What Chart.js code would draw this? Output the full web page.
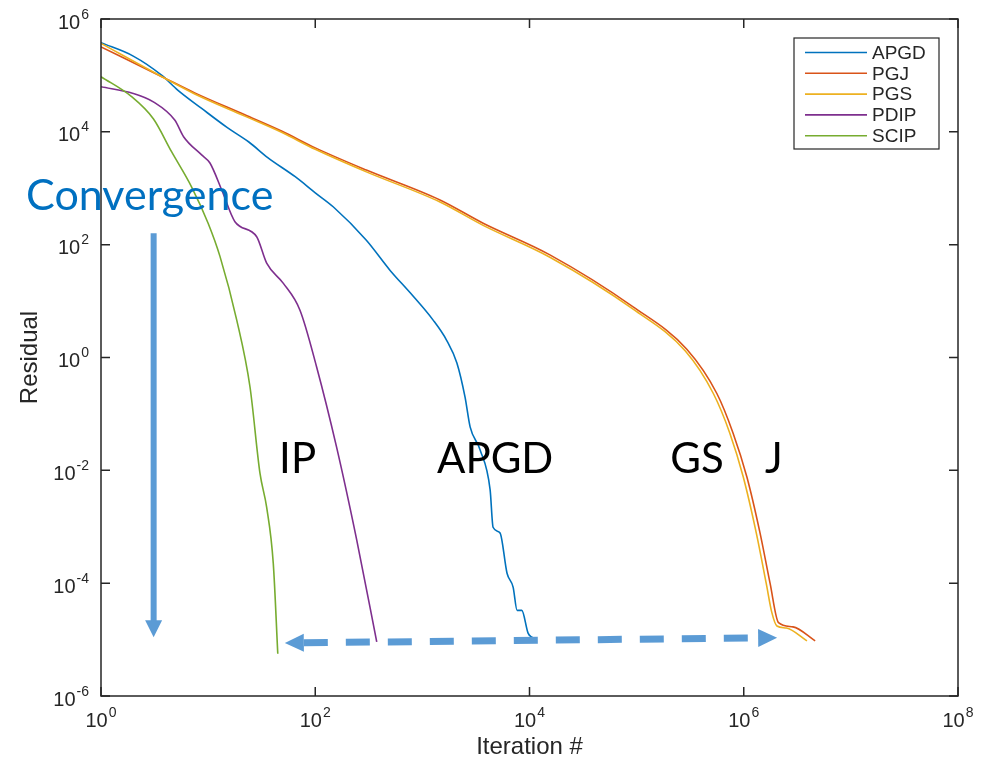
<!DOCTYPE html>
<html lang="en">
<head>
<meta charset="UTF-8">
<title>Residual vs iteration</title>
<script src="https://cdn.jsdelivr.net/npm/chart.js"></script>
<style>
  html, body {
    margin: 0;
    padding: 0;
    background: #fff;
    overflow: hidden;
  }
  canvas {
    display: block;
  }
</style>
</head>
<body>
<canvas id="chart" width="986" height="764"></canvas>
<script>
  // iteration counts (x) and residuals (y)
  const apgdIter = [1, 2, 3.7, 5.2, 8.7, 15, 24, 36, 65, 100, 147, 300, 500, 770, 1260, 1690, 2100, 2500, 2790, 3460, 4290, 4570, 5300, 6170, 7030, 7660, 8470, 9700, 10500, 11700]
  const apgdRes = [3.8e5, 2.2e5, 1.0e5, 5.5e4, 2.6e4, 1.2e4, 6600, 3500, 1600, 830, 470, 120, 35, 14, 4.6, 2.0, 0.8, 0.2, 0.059, 0.023, 0.0045, 9.8e-4, 7.8e-4, 1.5e-4, 8.5e-5, 3.3e-5, 3.3e-5, 1.3e-5, 1.1e-5, 1.0e-5]

  const pgjIter = [1, 3.7, 7.5, 22, 49, 100, 300, 1460, 3690, 15500, 92700, 294000, 561000, 794000, 1.07e6, 1.42e6, 1.76e6, 2.11e6, 2.88e6, 4.64e6]
  const pgjRes = [3.2e5, 9.5e4, 4.9e4, 2.0e4, 1.02e4, 5200, 2100, 620, 240, 66, 7.9, 1.4, 0.23, 0.046, 0.0076, 7.7e-4, 1.0e-4, 2.0e-5, 1.68e-5, 9.5e-6]

  const pgsIter = [1, 3.7, 7.5, 22, 49, 100, 300, 1460, 3690, 15500, 92700, 285000, 520000, 740000, 990000, 1.31e6, 1.62e6, 1.83e6, 2.04e6, 2.5e6, 3.89e6]
  const pgsRes = [3.7e5, 9.5e4, 4.7e4, 1.9e4, 9700, 4900, 1950, 570, 220, 60, 7.2, 1.3, 0.23, 0.046, 0.0076, 7.7e-4, 1.0e-4, 3.0e-5, 1.74e-5, 1.6e-5, 9.5e-6]

  const pdipIter = [1, 2, 3.08, 4.9, 5.9, 8.7, 10.4, 13.4, 17.8, 28.4, 35.2, 50.4, 72, 103, 158, 244, 375]
  const pdipRes = [6.3e4, 4.8e4, 3.4e4, 1.6e4, 8200, 3900, 2800, 930, 255, 138, 47, 20.6, 6.9, 0.68, 0.026, 5.8e-4, 9.1e-6]

  const scipIter = [1, 1.93, 3.08, 4.57, 7.0, 10.0, 12.9, 18.5, 24.6, 30.5, 35.2, 40.6, 44.7]
  const scipRes = [9.5e4, 4.2e4, 1.7e4, 4400, 1060, 240, 62, 4.6, 0.3, 0.0088, 0.0022, 2.2e-4, 5.6e-6]

  const seriesNames = ['APGD', 'PGJ', 'PGS', 'PDIP', 'SCIP']
  const seriesColors = ['#0072BD', '#D95319', '#EDB120', '#7E2F8E', '#77AC30']

  const xTicks = [1, 1e2, 1e4, 1e6, 1e8]
  const xTickExp = ['0', '2', '4', '6', '8']
  const yTicks = [1e-6, 1e-4, 1e-2, 1, 1e2, 1e4, 1e6]
  const yTickExp = ['-6', '-4', '-2', '0', '2', '4', '6']

  // annotations, anchored in data space (text left edge / baseline)
  const noteText = ['Convergence', 'IP', 'APGD', 'GS', 'J']
  const noteX = [0.2, 46, 1370, 2.06e5, 1.58e6]
  const noteY = [410, 8.9e-3, 8.9e-3, 8.9e-3, 8.9e-3]
  const downArrow = { x: 3.1, from: 160, to: 1.1e-5 }
  const spanArrow = { x1: 52, y1: 8.7e-6, x2: 2.05e6, y2: 1.08e-5 }

  const pairs = (xs, ys) => xs.map((x, i) => ({ x, y: ys[i] }))
  const allSeries = [
    pairs(apgdIter, apgdRes),
    pairs(pgjIter, pgjRes),
    pairs(pgsIter, pgsRes),
    pairs(pdipIter, pdipRes),
    pairs(scipIter, scipRes),
  ]

  const axisColor = '#262626'
  const helv = '"Liberation Sans", Arial, sans-serif'

  function drawPow(ctx, exp, x, y, align) {
    ctx.font = '20px ' + helv
    const w1 = ctx.measureText('10').width
    ctx.font = '14px ' + helv
    const w2 = ctx.measureText(exp).width
    const total = w1 + w2 + 1
    const x0 = align === 'right' ? x - total : x - total / 2
    ctx.textAlign = 'left'
    ctx.textBaseline = 'alphabetic'
    ctx.fillStyle = axisColor
    ctx.font = '20px ' + helv
    ctx.fillText('10', x0, y)
    ctx.font = '14px ' + helv
    ctx.fillText(exp, x0 + w1 + 1, y - 10)
  }

  function triangle(ctx, a, b, c) {
    ctx.beginPath()
    ctx.moveTo(a[0], a[1])
    ctx.lineTo(b[0], b[1])
    ctx.lineTo(c[0], c[1])
    ctx.closePath()
    ctx.fill()
  }

  const decor = {
    id: 'decor',
    afterDatasetsDraw(chart) {
      const ctx = chart.ctx
      const { left, right, top, bottom } = chart.chartArea
      const xs = chart.scales.x, ys = chart.scales.y
      ctx.save()

      // box + inward ticks
      ctx.strokeStyle = axisColor
      ctx.lineWidth = 1.5
      ctx.strokeRect(left, top, right - left, bottom - top)
      ctx.beginPath()
      xTicks.forEach(v => {
        const px = xs.getPixelForValue(v)
        ctx.moveTo(px, bottom); ctx.lineTo(px, bottom - 9)
        ctx.moveTo(px, top); ctx.lineTo(px, top + 9)
      })
      yTicks.forEach(v => {
        const py = ys.getPixelForValue(v)
        ctx.moveTo(left, py); ctx.lineTo(left + 9, py)
        ctx.moveTo(right, py); ctx.lineTo(right - 9, py)
      })
      ctx.stroke()

      // tick labels
      xTicks.forEach((v, i) => drawPow(ctx, xTickExp[i], xs.getPixelForValue(v), bottom + 31, 'center'))
      yTicks.forEach((v, i) => drawPow(ctx, yTickExp[i], left - 12, ys.getPixelForValue(v) + 9.5, 'right'))

      // axis titles
      ctx.fillStyle = axisColor
      ctx.font = '24px ' + helv
      ctx.textAlign = 'center'
      ctx.fillText('Iteration #', (left + right) / 2, bottom + 58)
      ctx.save()
      ctx.translate(37, (top + bottom) / 2)
      ctx.rotate(-Math.PI / 2)
      ctx.fillText('Residual', 0, 0)
      ctx.restore()

      // annotation text
      ctx.textAlign = 'left'
      noteText.forEach((t, i) => {
        ctx.font = (i === 0 ? '43px' : '42px') + ' Lato, "Open Sans", sans-serif'
        ctx.fillStyle = i === 0 ? '#0070C0' : '#000'
        ctx.fillText(t, xs.getPixelForValue(noteX[i]), ys.getPixelForValue(noteY[i]))
      })

      // arrows
      ctx.fillStyle = '#5B9BD5'
      ctx.strokeStyle = '#5B9BD5'
      const ax = xs.getPixelForValue(downArrow.x)
      const ay1 = ys.getPixelForValue(downArrow.from)
      const ay2 = ys.getPixelForValue(downArrow.to)
      ctx.lineWidth = 6
      ctx.beginPath()
      ctx.moveTo(ax, ay1); ctx.lineTo(ax, ay2 - 16)
      ctx.stroke()
      triangle(ctx, [ax - 8.5, ay2 - 17], [ax + 8.5, ay2 - 17], [ax, ay2])

      const sx1 = xs.getPixelForValue(spanArrow.x1), sy1 = ys.getPixelForValue(spanArrow.y1)
      const sx2 = xs.getPixelForValue(spanArrow.x2), sy2 = ys.getPixelForValue(spanArrow.y2)
      const ang = Math.atan2(sy2 - sy1, sx2 - sx1)
      const hl = 19, hw = 9
      const cos = Math.cos(ang), sin = Math.sin(ang)
      ctx.lineWidth = 7
      ctx.setLineDash([24, 18])
      ctx.beginPath()
      ctx.moveTo(sx1 + hl * cos, sy1 + hl * sin)
      ctx.lineTo(sx2 - hl * cos, sy2 - hl * sin)
      ctx.stroke()
      ctx.setLineDash([])
      triangle(ctx, [sx1, sy1],
        [sx1 + hl * cos - hw * sin, sy1 + hl * sin + hw * cos],
        [sx1 + hl * cos + hw * sin, sy1 + hl * sin - hw * cos])
      triangle(ctx, [sx2, sy2],
        [sx2 - hl * cos - hw * sin, sy2 - hl * sin + hw * cos],
        [sx2 - hl * cos + hw * sin, sy2 - hl * sin - hw * cos])

      // legend box
      const bw = 145, bh = 111
      const bx = right - 19 - bw, by = top + 19
      ctx.fillStyle = '#fff'
      ctx.fillRect(bx, by, bw, bh)
      ctx.strokeStyle = axisColor
      ctx.lineWidth = 1.2
      ctx.strokeRect(bx, by, bw, bh)
      ctx.font = '19px ' + helv
      ctx.textBaseline = 'middle'
      seriesNames.forEach((name, i) => {
        const ry = by + 14.5 + i * 20.8
        ctx.strokeStyle = seriesColors[i]
        ctx.lineWidth = 1.6
        ctx.beginPath()
        ctx.moveTo(bx + 11, ry); ctx.lineTo(bx + 73, ry)
        ctx.stroke()
        ctx.fillStyle = axisColor
        ctx.fillText(name, bx + 78, ry + 1)
      })
      ctx.restore()
    }
  }

  const ctx = document.getElementById('chart').getContext('2d')
  const chart = new Chart(ctx, {
    type: 'line',
    data: {
      datasets: allSeries.map((pts, i) => ({
        label: seriesNames[i],
        data: pts,
        borderColor: seriesColors[i],
        backgroundColor: seriesColors[i],
        borderWidth: 1.6,
        pointRadius: 0,
        fill: false,
        cubicInterpolationMode: 'monotone',
        order: seriesNames.length - i,
      }))
    },
    options: {
      responsive: false,
      animation: false,
      devicePixelRatio: 1,
      layout: { padding: { left: 0, top: 19, right: 28, bottom: 0 } },
      scales: {
        x: {
          type: 'logarithmic',
          min: 1,
          max: 1e8,
          grid: { display: false },
          border: { display: false },
          ticks: { display: false },
          afterFit: s => { s.height = 68 },
        },
        y: {
          type: 'logarithmic',
          min: 1e-6,
          max: 1e6,
          grid: { display: false },
          border: { display: false },
          ticks: { display: false },
          afterFit: s => { s.width = 101 },
        }
      },
      plugins: {
        legend: { display: false },
        tooltip: { enabled: false },
      },
    },
    plugins: [decor]
  })
</script>
</body>
</html>
